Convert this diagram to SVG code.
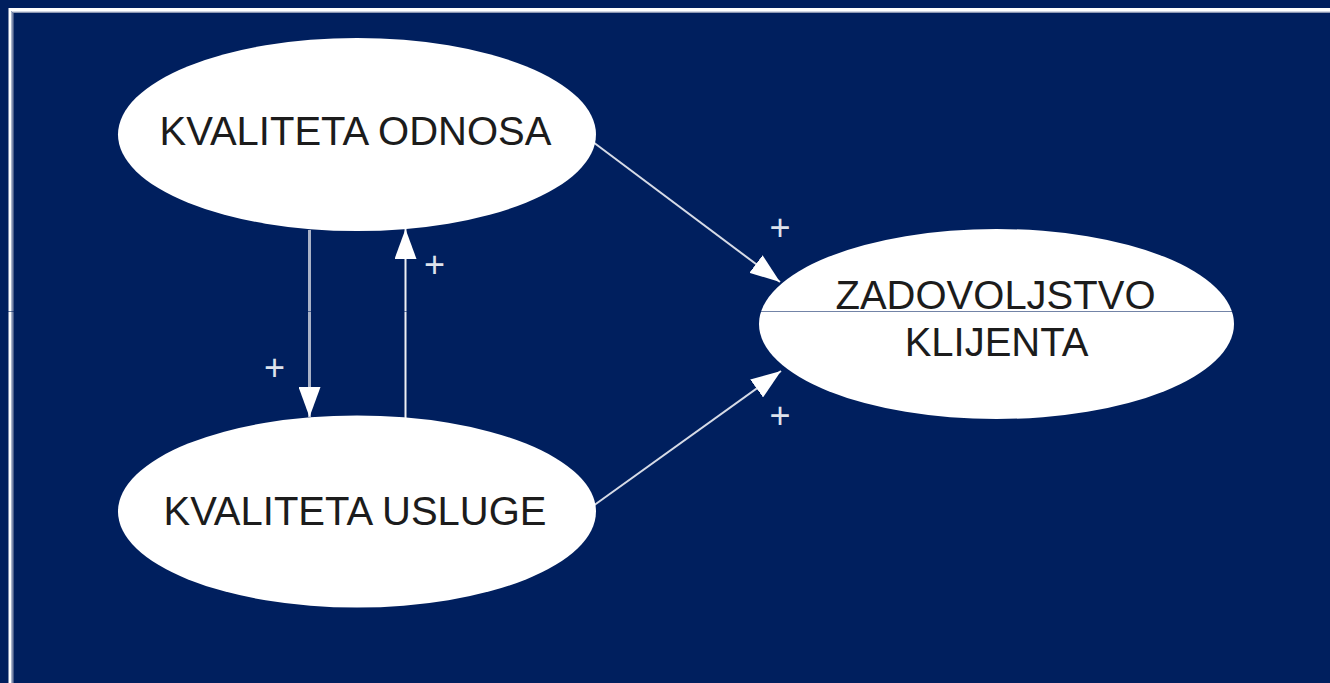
<svg xmlns="http://www.w3.org/2000/svg" width="1330" height="683" viewBox="0 0 1330 683">
  <defs>
    <style>
      .node { fill: #ffffff; }
      .label { font-family: "Liberation Sans", Arial, sans-serif; font-size: 40px; fill: #1c1c1c; text-anchor: middle; }
      .sign { font-family: "Liberation Sans", Arial, sans-serif; font-size: 36px; fill: #dde2ec; text-anchor: middle; }
      .link { stroke: #d6dbe6; stroke-width: 2; fill: none; }
    </style>
    <marker id="head" viewBox="0 0 30 22" refX="30" refY="11" markerWidth="30" markerHeight="22" markerUnits="userSpaceOnUse" orient="auto">
      <path d="M0,0 L30,11 L0,22 Z" fill="#ffffff"/>
    </marker>
  </defs>

  <!-- background and frame -->
  <rect x="0" y="0" width="1330" height="683" fill="#001f5e"/>
  <path d="M10,690 V9.5 H1340" fill="none" stroke="#ffffff" stroke-width="3"/>
  <path d="M12,690 V11.5 H1340" fill="none" stroke="#d3d8e4" stroke-width="1"/>
  <path d="M13,690 V12.5 H1340" fill="none" stroke="#8c97b2" stroke-width="1"/>

  <!-- connectors -->
  <g id="connectors">
    <line class="link" x1="593" y1="142" x2="780" y2="282" marker-end="url(#head)"/>
    <line class="link" x1="593" y1="506" x2="781" y2="371" marker-end="url(#head)"/>
    <line class="link" x1="309.5" y1="230" x2="309.5" y2="417" style="stroke:#a9b2c7;stroke-width:3" marker-end="url(#head)"/>
    <line class="link" x1="405.5" y1="418" x2="405.5" y2="229" style="stroke:#eef0f5" marker-end="url(#head)"/>
  </g>

  <!-- nodes -->
  <g id="node-odnosa">
    <ellipse class="node" cx="357" cy="134.5" rx="239" ry="96.5"/>
    <text class="label" x="355.5" y="145">KVALITETA ODNOSA</text>
  </g>
  <g id="node-usluge">
    <ellipse class="node" cx="357" cy="511.5" rx="239" ry="96"/>
    <text class="label" x="355" y="525">KVALITETA USLUGE</text>
  </g>
  <g id="node-zadovoljstvo">
    <ellipse class="node" cx="996.5" cy="324" rx="237.5" ry="95"/>
    <text class="label" x="995.5" y="309">ZADOVOLJSTVO</text>
    <text class="label" x="996.5" y="356">KLIJENTA</text>
  </g>

  <!-- faint horizontal guide line -->
  <line x1="0" y1="311.5" x2="1330" y2="311.5" stroke="#001f5e" stroke-opacity="0.55" stroke-width="1"/>

  <!-- relationship signs -->
  <g id="signs">
    <text class="sign" x="780" y="239.5">+</text>
    <text class="sign" x="434.5" y="276.5">+</text>
    <text class="sign" x="274.5" y="379.5">+</text>
    <text class="sign" x="780" y="427.5">+</text>
  </g>
</svg>
